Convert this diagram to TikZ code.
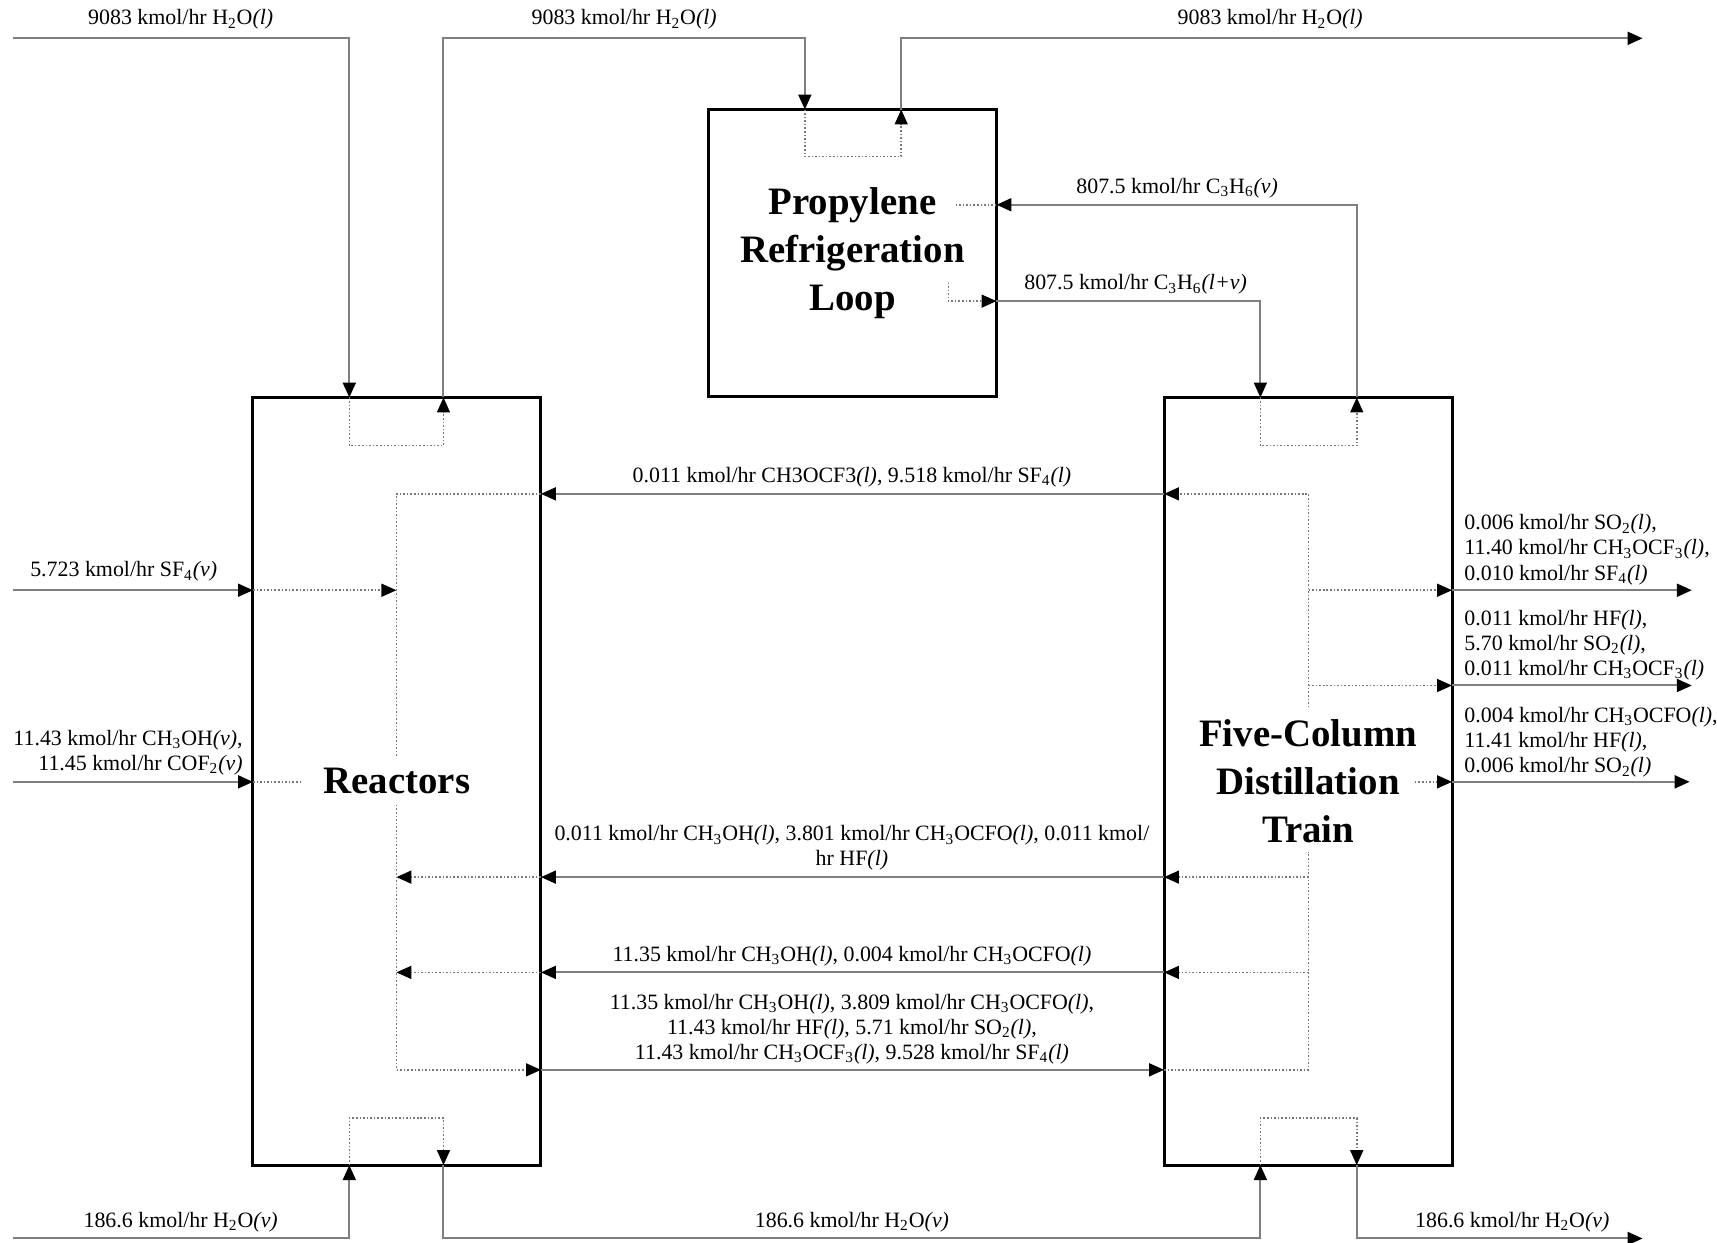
\documentclass[tikz,border=0pt]{standalone}
\usepackage{fontspec}
\setmainfont{Liberation Serif}
\usetikzlibrary{arrows.meta}
\newcommand{\low}[1]{\textsubscript{#1}}
\newcommand{\phase}[1]{\textit{(#1)}}
\begin{document}
\begin{tikzpicture}[x=0.55pt,y=-0.55pt]
\newcommand{\pxsize}{0.55pt}
\definecolor{linecolor}{RGB}{127,127,127}
\definecolor{dotcolor}{RGB}{120,120,120}
\tikzstyle{unit}=[draw=black,line width=1.5pt,align=center,inner sep=0pt,font=\bfseries\fontsize{19.5}{24}\selectfont]
\tikzstyle{flowtext}=[inner sep=0pt,font=\fontsize{11}{12.6}\selectfont]
\tikzstyle{stream}=[draw=linecolor,line width=1pt]
\tikzstyle{internal}=[draw=dotcolor,densely dotted,line width=0.8pt]
\tikzstyle{feed}=[stream,-{Triangle[length=7.5pt,width=6.5pt,color=black]}]
\tikzstyle{internalfeed}=[internal,-{Triangle[length=7.5pt,width=6.5pt,color=black]}]
\useasboundingbox (0,0) rectangle (1568,1135);
% units
\node[unit,minimum width=263*\pxsize,minimum height=701*\pxsize] (reactors) at (362.5,713.5) {Reactors};
\node[unit,minimum width=263*\pxsize,minimum height=262*\pxsize] (propylene) at (778.5,231) {Propylene\\Refrigeration\\Loop};
\node[unit,minimum width=263*\pxsize,minimum height=701*\pxsize] (distillation) at (1194.5,713.5) {Five-Column\\Distillation\\Train};
% ports on the unit borders
\coordinate (r-top-in) at (319,363);
\coordinate (r-top-out) at (405,363);
\coordinate (r-bot-in) at (319,1064);
\coordinate (r-bot-out) at (405,1064);
\coordinate (r-sf4) at (231,539);
\coordinate (r-meoh) at (231,714);
\coordinate (r-rec1) at (494,451);
\coordinate (r-rec2) at (494,801);
\coordinate (r-rec3) at (494,888);
\coordinate (r-prod) at (494,977);
\coordinate (p-top-in) at (735,100);
\coordinate (p-top-out) at (823,100);
\coordinate (p-vap) at (910,187);
\coordinate (p-liq) at (910,275);
\coordinate (d-top-in) at (1151,363);
\coordinate (d-top-out) at (1239,363);
\coordinate (d-bot-in) at (1151,1064);
\coordinate (d-bot-out) at (1239,1064);
\coordinate (d-rec1) at (1063,451);
\coordinate (d-rec2) at (1063,801);
\coordinate (d-rec3) at (1063,888);
\coordinate (d-feed) at (1063,977);
\coordinate (d-out1) at (1326,539);
\coordinate (d-out2) at (1326,626);
\coordinate (d-out3) at (1326,714);
% points inside the units
\coordinate (r-core-sf4) at (362,539);
\coordinate (r-core-meoh) at (275,714);
\coordinate (r-core-top) at (362,690);
\coordinate (r-core-bot) at (362,735);
\coordinate (r-core-rec2) at (362,801);
\coordinate (r-core-rec3) at (362,888);
\coordinate (p-core-vap) at (873,187);
\coordinate (p-core-liq) at (866,258);
\coordinate (d-core-top) at (1195,646);
\coordinate (d-core-bot) at (1195,778);
\coordinate (d-core-rec2) at (1195,801);
\coordinate (d-core-rec3) at (1195,888);
\coordinate (d-core-out1) at (1195,539);
\coordinate (d-core-out2) at (1195,626);
\coordinate (d-core-out3) at (1292,714);
% free ends
\coordinate (cw-in) at (12,35);
\coordinate (cw-mid) at (570,35);
\coordinate (cw-out) at (1500,35);
\coordinate (sf4-in) at (12,539);
\coordinate (meoh-in) at (12,714);
\coordinate (out1-end) at (1545,539);
\coordinate (out2-end) at (1545,626);
\coordinate (out3-end) at (1543,714);
\coordinate (hs-in) at (12,1131);
\coordinate (hs-mid) at (778,1131);
\coordinate (hs-out) at (1500,1131);
% cooling water
\draw[feed] (cw-in) -| (r-top-in);
\draw[internalfeed] (r-top-in) -- ++(0,44) -| (r-top-out);
\draw[feed] (r-top-out) |- (cw-mid) -| (p-top-in);
\draw[internalfeed] (p-top-in) -- ++(0,43) -| (p-top-out);
\draw[feed] (p-top-out) |- (cw-out);
% propylene loop
\draw[internalfeed] (d-top-in) -- ++(0,44) -| (d-top-out);
\draw[feed] (d-top-out) |- (p-vap);
\draw[internal] (p-vap) -- (p-core-vap);
\draw[internalfeed] (p-core-liq) |- (p-liq);
\draw[feed] (p-liq) -| (d-top-in);
% fresh feeds
\draw[feed] (sf4-in) -- (r-sf4);
\draw[internalfeed] (r-sf4) -- (r-core-sf4);
\draw[feed] (meoh-in) -- (r-meoh);
\draw[internal] (r-meoh) -- (r-core-meoh);
% recycles
\draw[internalfeed] (d-core-top) |- (d-rec1);
\draw[feed] (d-rec1) -- (r-rec1);
\draw[internal] (r-rec1) -| (r-core-top);
\draw[internalfeed] (d-core-rec2) -- (d-rec2);
\draw[feed] (d-rec2) -- (r-rec2);
\draw[internalfeed] (r-rec2) -- (r-core-rec2);
\draw[internalfeed] (d-core-rec3) -- (d-rec3);
\draw[feed] (d-rec3) -- (r-rec3);
\draw[internalfeed] (r-rec3) -- (r-core-rec3);
% reactor effluent
\draw[internalfeed] (r-core-bot) |- (r-prod);
\draw[feed] (r-prod) -- (d-feed);
\draw[internal] (d-feed) -| (d-core-bot);
% products
\draw[internalfeed] (d-core-out1) -- (d-out1);
\draw[feed] (d-out1) -- (out1-end);
\draw[internalfeed] (d-core-out2) -- (d-out2);
\draw[feed] (d-out2) -- (out2-end);
\draw[internalfeed] (d-core-out3) -- (d-out3);
\draw[feed] (d-out3) -- (out3-end);
% heating steam
\draw[feed] (hs-in) -| (r-bot-in);
\draw[internalfeed] (r-bot-in) -- ++(0,-43) -| (r-bot-out);
\draw[feed] (r-bot-out) |- (hs-mid) -| (d-bot-in);
\draw[internalfeed] (d-bot-in) -- ++(0,-43) -| (d-bot-out);
\draw[feed] (d-bot-out) |- (hs-out);
% stream labels
\node[flowtext] (cw-in-text) at (165,18) {9083 kmol/hr H\low{2}O\phase{l}};
\node[flowtext] (cw-mid-text) at (570,18) {9083 kmol/hr H\low{2}O\phase{l}};
\node[flowtext] (cw-out-text) at (1160,18) {9083 kmol/hr H\low{2}O\phase{l}};
\node[flowtext] (vap-text) at (1075,172) {807.5 kmol/hr C\low{3}H\low{6}\phase{v}};
\node[flowtext] (liq-text) at (1037,260) {807.5 kmol/hr C\low{3}H\low{6}\phase{l+v}};
\node[flowtext] (sf4-text) at (113,522) {5.723 kmol/hr SF\low{4}\phase{v}};
\node[flowtext,anchor=east,align=right] (meoh-text) at (222,687) {11.43 kmol/hr CH\low{3}OH\phase{v},\\11.45 kmol/hr COF\low{2}\phase{v}};
\node[flowtext] (rec1-text) at (778,436) {0.011 kmol/hr CH3OCF3\phase{l}, 9.518 kmol/hr SF\low{4}\phase{l}};
\node[flowtext,align=center] (rec2-text) at (778,774.5) {0.011 kmol/hr CH\low{3}OH\phase{l}, 3.801 kmol/hr CH\low{3}OCFO\phase{l}, 0.011 kmol/\\hr HF\phase{l}};
\node[flowtext] (rec3-text) at (778,873) {11.35 kmol/hr CH\low{3}OH\phase{l}, 0.004 kmol/hr CH\low{3}OCFO\phase{l}};
\node[flowtext,align=center] (prod-text) at (778,940) {11.35 kmol/hr CH\low{3}OH\phase{l}, 3.809 kmol/hr CH\low{3}OCFO\phase{l},\\11.43 kmol/hr HF\phase{l}, 5.71 kmol/hr SO\low{2}\phase{l},\\11.43 kmol/hr CH\low{3}OCF\low{3}\phase{l}, 9.528 kmol/hr SF\low{4}\phase{l}};
\node[flowtext,anchor=west,align=left] (out1-text) at (1337,502) {0.006 kmol/hr SO\low{2}\phase{l},\\11.40 kmol/hr CH\low{3}OCF\low{3}\phase{l},\\0.010 kmol/hr SF\low{4}\phase{l}};
\node[flowtext,anchor=west,align=left] (out2-text) at (1337,589) {0.011 kmol/hr HF\phase{l},\\5.70 kmol/hr SO\low{2}\phase{l},\\0.011 kmol/hr CH\low{3}OCF\low{3}\phase{l}};
\node[flowtext,anchor=west,align=left] (out3-text) at (1337,678) {0.004 kmol/hr CH\low{3}OCFO\phase{l},\\11.41 kmol/hr HF\phase{l},\\0.006 kmol/hr SO\low{2}\phase{l}};
\node[flowtext] (hs-in-text) at (165,1116) {186.6 kmol/hr H\low{2}O\phase{v}};
\node[flowtext] (hs-mid-text) at (778,1116) {186.6 kmol/hr H\low{2}O\phase{v}};
\node[flowtext] (hs-out-text) at (1381,1116) {186.6 kmol/hr H\low{2}O\phase{v}};
\end{tikzpicture}
\end{document}
